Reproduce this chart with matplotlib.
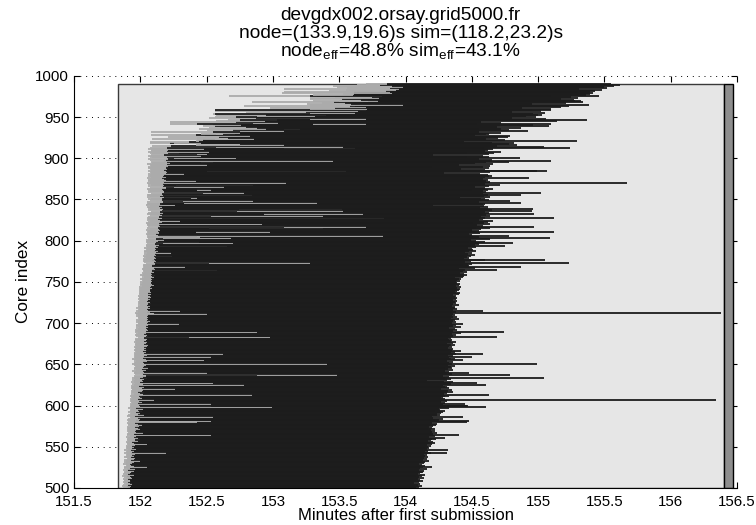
import matplotlib
matplotlib.use("Agg")
import matplotlib.pyplot as plt
import numpy as np
from matplotlib.patches import Rectangle

plt.rcParams.update({
    "font.family": ["Liberation Sans", "DejaVu Sans"],
    "mathtext.fontset": "custom",
    "mathtext.rm": "Liberation Sans",
    "mathtext.it": "Liberation Sans",
})

# one row per core: submission time, start of run, end of run (minutes)
cores = np.arange(500, 991)

submit = [
    151.87, 151.88, 151.86, 151.88, 151.87, 151.89, 151.88, 151.87, 151.89, 151.88,
    151.88, 151.87, 151.89, 151.88, 151.86, 151.88, 151.89, 151.87, 151.88, 151.90,
    151.88, 151.89, 151.87, 151.90, 151.88, 151.89, 151.88, 151.90, 151.89, 151.87,
    151.89, 151.88, 151.90, 151.89, 151.88, 151.90, 151.91, 151.89, 151.88, 151.90,
    151.89, 151.90, 151.88, 151.91, 151.89, 151.90, 151.88, 151.91, 151.90, 151.89,
    151.90, 151.89, 151.91, 151.90, 151.92, 151.90, 151.89, 151.91, 151.90, 151.92,
    151.90, 151.91, 151.89, 151.92, 151.90, 151.91, 151.90, 151.92, 151.91, 151.90,
    151.91, 151.90, 151.92, 151.91, 151.90, 151.92, 151.91, 151.93, 151.91, 151.90,
    151.92, 151.91, 151.90, 151.92, 151.91, 151.93, 151.92, 151.90, 151.91, 151.92,
    151.92, 151.93, 151.91, 151.92, 151.94, 151.92, 151.93, 151.91, 151.92, 151.93,
    151.92, 151.93, 151.92, 151.94, 151.93, 151.92, 151.94, 151.93, 151.92, 151.94,
    151.93, 151.92, 151.94, 151.93, 151.95, 151.93, 151.94, 151.95, 151.93, 151.94,
    151.94, 151.93, 151.95, 151.94, 151.93, 151.95, 151.94, 151.96, 151.93, 151.95,
    151.95, 151.94, 151.96, 151.95, 151.94, 151.96, 151.95, 152.88, 151.96, 151.95,
    151.95, 151.96, 151.94, 151.97, 151.95, 151.96, 151.95, 151.97, 151.96, 151.95,
    151.95, 151.94, 151.96, 151.95, 151.97, 151.95, 151.96, 151.94, 151.96, 151.95,
    151.96, 151.95, 151.97, 151.96, 151.95, 151.97, 151.96, 151.95, 151.96, 151.97,
    151.96, 151.95, 151.97, 151.96, 151.98, 151.96, 151.97, 151.95, 151.97, 151.96,
    151.97, 151.96, 151.98, 152.37, 151.97, 151.98, 151.96, 151.97, 151.98, 151.96,
    151.97, 151.98, 151.96, 151.98, 151.97, 151.99, 151.97, 151.98, 151.97, 151.98,
    151.98, 151.97, 151.99, 151.98, 151.97, 151.99, 151.98, 152.00, 151.98, 151.97,
    151.98, 151.97, 151.96, 151.98, 151.99, 151.97, 151.98, 151.99, 151.97, 151.98,
    151.99, 151.98, 152.00, 151.98, 151.99, 152.00, 151.98, 151.99, 152.00, 151.98,
    151.99, 152.00, 151.99, 151.98, 152.00, 151.99, 152.01, 151.99, 152.00, 151.99,
    152.00, 151.99, 152.01, 152.00, 151.99, 152.01, 152.00, 152.02, 152.00, 152.01,
    152.00, 152.02, 152.01, 152.00, 152.02, 152.01, 152.03, 152.01, 152.02, 152.00,
    152.02, 152.01, 152.03, 152.02, 152.02, 152.03, 152.01, 152.02, 152.03, 152.02,
    152.03, 152.02, 152.04, 152.52, 152.03, 152.02, 152.04, 152.03, 152.02, 152.04,
    152.03, 152.04, 152.02, 152.04, 152.03, 152.05, 152.03, 152.04, 152.03, 152.05,
    152.04, 152.03, 152.05, 152.04, 152.06, 152.04, 152.05, 152.17, 152.04, 152.05,
    152.05, 152.04, 152.06, 152.17, 152.05, 152.06, 152.43, 152.05, 152.04, 152.06,
    152.05, 152.42, 152.06, 152.04, 152.07, 152.52, 152.05, 153.08, 152.06, 152.05,
    152.05, 152.06, 152.04, 152.06, 152.07, 152.05, 152.06, 152.07, 152.05, 152.06,
    152.53, 152.07, 152.05, 152.93, 152.06, 152.08, 152.73, 152.06, 152.74, 152.07,
    152.06, 152.05, 152.07, 152.04, 152.05, 152.06, 152.33, 152.05, 152.32, 152.07,
    152.06, 152.08, 152.38, 152.05, 152.07, 152.06, 152.05, 152.08, 152.47, 152.06,
    152.07, 152.06, 152.43, 152.05, 152.07, 152.25, 152.06, 152.27, 152.08, 152.06,
    152.05, 152.07, 152.06, 152.08, 152.06, 152.07, 152.05, 152.08, 152.07, 152.06,
    152.07, 152.06, 152.08, 152.07, 152.50, 152.06, 152.08, 152.07, 152.06, 152.08,
    152.06, 152.08, 152.07, 152.05, 152.09, 152.46, 152.08, 152.18, 152.07, 152.06,
    152.25, 152.07, 152.09, 152.06, 152.08, 152.43, 152.07, 152.09, 152.06, 152.08,
    152.08, 152.06, 153.08, 152.07, 152.57, 152.09, 152.42, 152.43, 152.07, 152.25,
    152.07, 152.42, 152.43, 152.09, 152.56, 152.43, 152.21, 152.49, 152.08, 152.57,
    152.46, 152.60, 152.08, 152.75, 152.50, 153.08, 152.44, 152.52, 152.60, 152.47,
    152.55, 152.22, 153.30, 152.85, 152.22, 152.57, 152.66, 152.75, 153.28, 152.52,
    152.56, 152.88, 152.57, 152.58, 152.55, 153.28, 152.80, 152.56, 153.30, 152.56,
    153.28, 152.98, 153.28, 153.40, 152.78, 153.28, 153.26, 153.37, 152.84, 153.50,
    153.30, 153.53, 153.28, 153.28, 153.47, 153.33, 152.67, 153.30, 153.53, 153.07,
    153.53, 153.08, 153.42, 153.55, 153.08, 153.56, 153.48, 153.60, 153.45, 153.63, 153.70,
]

start = [
    151.91, 151.92, 151.90, 151.93, 151.91, 151.94, 151.92, 151.91, 151.93, 151.92,
    151.92, 151.91, 151.94, 151.93, 151.90, 151.92, 151.95, 151.91, 151.92, 151.94,
    151.93, 151.95, 151.91, 151.96, 151.92, 151.94, 152.05, 151.95, 151.93, 151.92,
    151.94, 151.93, 151.95, 152.00, 151.93, 151.95, 151.96, 151.94, 151.93, 151.95,
    151.94, 151.96, 151.93, 152.19, 151.94, 151.95, 151.93, 151.97, 151.95, 151.94,
    151.95, 151.94, 151.96, 152.05, 151.97, 151.95, 151.94, 151.98, 151.96, 152.00,
    151.96, 151.98, 151.95, 151.97, 152.53, 151.96, 151.95, 152.02, 151.97, 151.96,
    151.97, 151.96, 152.00, 151.98, 151.96, 151.99, 151.97, 152.01, 151.98, 151.96,
    152.43, 152.53, 151.97, 151.99, 152.00, 151.98, 152.55, 151.96, 151.98, 152.03,
    151.98, 152.00, 151.97, 152.01, 151.99, 151.98, 152.02, 151.97, 152.99, 152.53,
    152.00, 151.99, 152.53, 151.98, 152.01, 152.00, 151.99, 152.10, 151.98, 152.01,
    152.00, 152.01, 151.99, 152.84, 152.02, 152.00, 152.03, 151.98, 152.01, 152.02,
    152.26, 152.01, 152.00, 152.03, 151.99, 152.78, 152.02, 152.55, 152.01, 152.00,
    152.02, 152.01, 152.03, 152.05, 152.00, 152.02, 152.04, 153.48, 152.02, 152.01,
    152.50, 152.03, 152.02, 152.04, 152.01, 152.03, 152.06, 152.02, 152.03, 152.04,
    152.04, 153.41, 152.03, 152.02, 152.05, 152.48, 152.03, 152.04, 152.02, 152.53,
    152.03, 152.05, 152.04, 152.62, 152.03, 152.04, 152.02, 152.05, 152.04, 152.03,
    152.04, 152.03, 152.05, 152.04, 152.06, 152.03, 152.04, 152.05, 152.03, 152.04,
    152.04, 152.05, 152.03, 152.98, 152.06, 152.04, 152.05, 152.03, 152.04, 152.88,
    152.05, 152.04, 152.06, 152.05, 152.04, 152.06, 152.05, 152.04, 152.06, 152.29,
    152.05, 152.06, 152.04, 152.07, 152.05, 152.06, 152.05, 152.07, 152.06, 152.05,
    152.06, 152.50, 152.10, 152.05, 152.07, 152.30, 152.06, 152.05, 152.07, 152.06,
    152.06, 152.07, 152.05, 152.06, 152.08, 152.06, 152.07, 152.05, 152.06, 152.07,
    152.07, 152.06, 152.08, 152.07, 152.06, 152.08, 152.07, 152.06, 152.08, 152.07,
    152.07, 152.08, 152.07, 152.09, 152.07, 152.08, 152.10, 152.07, 152.09, 152.08,
    152.08, 152.09, 152.08, 152.10, 152.09, 152.08, 152.10, 152.09, 152.11, 152.08,
    152.09, 152.08, 152.10, 152.09, 152.58, 152.09, 152.11, 152.10, 152.34, 152.09,
    152.10, 152.09, 152.11, 153.28, 152.10, 152.12, 152.09, 152.11, 152.10, 152.12,
    152.11, 152.24, 152.10, 152.12, 152.11, 152.23, 152.12, 152.10, 152.13, 152.11,
    152.12, 152.11, 152.13, 152.65, 152.12, 152.14, 152.11, 152.70, 152.44, 152.12,
    152.13, 152.18, 152.12, 152.68, 152.14, 152.45, 153.83, 152.13, 152.12, 152.14,
    152.14, 152.98, 152.13, 152.15, 152.14, 153.38, 152.13, 153.70, 152.15, 152.14,
    152.92, 152.15, 152.14, 152.16, 152.30, 152.15, 152.13, 153.84, 152.16, 152.14,
    153.38, 152.16, 152.15, 153.68, 152.17, 152.15, 153.53, 152.16, 153.52, 152.17,
    152.15, 152.16, 152.14, 152.26, 152.16, 152.15, 153.33, 152.17, 152.85, 152.16,
    152.17, 152.16, 152.43, 152.18, 152.15, 152.84, 152.17, 152.16, 152.78, 152.18,
    152.18, 152.17, 152.53, 152.16, 152.19, 152.63, 152.17, 152.85, 152.18, 152.17,
    153.10, 152.18, 152.17, 152.42, 152.19, 152.18, 152.16, 152.19, 152.18, 152.17,
    152.18, 152.33, 152.19, 152.20, 153.55, 152.19, 152.18, 152.20, 152.19, 152.21,
    152.19, 152.21, 152.50, 152.20, 152.22, 152.55, 152.20, 153.45, 152.19, 152.21,
    152.72, 152.43, 152.20, 152.46, 152.18, 152.50, 152.29, 152.21, 152.52, 152.20,
    152.21, 152.48, 153.62, 152.20, 153.53, 152.23, 153.08, 152.75, 152.22, 152.46,
    152.37, 152.44, 152.47, 152.67, 152.86, 152.66, 152.59, 152.83, 152.42, 152.71,
    152.62, 152.75, 152.55, 153.08, 152.70, 153.20, 152.95, 152.88, 152.80, 152.56,
    152.76, 152.43, 153.70, 153.04, 152.72, 152.94, 153.03, 152.75, 153.70, 152.87,
    152.72, 153.32, 153.40, 152.95, 152.56, 153.62, 153.25, 153.64, 153.70, 152.56,
    153.71, 153.47, 153.70, 153.62, 153.58, 153.98, 153.59, 153.54, 153.46, 153.72,
    153.79, 153.66, 153.52, 153.80, 153.75, 153.82, 153.28, 153.60, 153.61, 153.90,
    153.61, 153.88, 153.85, 153.93, 153.95, 153.88, 153.90, 153.98, 153.90, 153.81, 153.86,
]

finish = [
    154.08, 154.10, 154.07, 154.12, 154.09, 154.11, 154.06, 154.10, 154.13, 154.08,
    154.11, 154.09, 154.14, 154.10, 154.08, 154.12, 154.15, 154.09, 154.11, 154.13,
    154.12, 154.14, 154.10, 154.16, 154.11, 154.13, 154.20, 154.15, 154.12, 154.10,
    154.14, 154.12, 154.15, 154.18, 154.13, 154.16, 154.14, 154.17, 154.12, 154.15,
    154.16, 154.14, 154.19, 154.31, 154.15, 154.17, 154.32, 154.16, 154.18, 154.15,
    154.17, 154.19, 154.16, 154.20, 154.22, 154.18, 154.21, 154.17, 154.19, 154.23,
    154.20, 154.30, 154.18, 154.22, 154.40, 154.21, 154.19, 154.24, 154.20, 154.22,
    154.19, 154.17, 154.22, 154.20, 154.18, 154.21, 154.23, 154.19, 154.24, 154.20,
    154.46, 154.48, 154.22, 154.25, 154.28, 154.21, 154.43, 154.20, 154.26, 154.24,
    154.24, 154.27, 154.28, 154.22, 154.30, 154.26, 154.25, 154.33, 154.61, 154.47,
    154.46, 154.28, 154.45, 154.30, 154.27, 154.31, 154.26, 156.34, 154.30, 154.28,
    154.27, 154.30, 154.33, 154.63, 154.29, 154.31, 154.36, 154.28, 154.32, 154.35,
    154.27, 154.33, 154.30, 154.31, 154.28, 154.61, 154.34, 154.54, 154.29, 154.36,
    154.16, 154.31, 154.34, 155.04, 154.30, 154.33, 154.28, 154.79, 154.35, 154.31,
    154.48, 154.33, 154.30, 154.36, 154.32, 154.35, 154.30, 154.34, 154.37, 154.32,
    154.35, 154.99, 154.33, 154.36, 154.31, 154.43, 154.34, 154.37, 154.33, 154.50,
    154.36, 154.32, 154.38, 154.58, 154.34, 154.37, 154.42, 154.35, 154.33, 154.36,
    154.32, 154.35, 154.33, 154.37, 154.34, 154.31, 154.36, 154.38, 154.34, 154.33,
    154.35, 154.32, 154.34, 154.69, 154.36, 154.33, 154.38, 154.35, 154.42, 154.74,
    154.36, 154.34, 154.39, 154.37, 154.33, 154.42, 154.36, 154.35, 154.38, 154.43,
    154.35, 154.38, 154.36, 154.33, 154.37, 154.40, 154.34, 154.36, 154.39, 154.35,
    154.37, 154.36, 156.38, 154.38, 154.35, 154.58, 154.36, 154.39, 154.37, 154.34,
    154.37, 154.35, 154.40, 154.36, 154.38, 154.34, 154.37, 154.39, 154.36, 154.38,
    154.35, 154.39, 154.37, 154.38, 154.36, 154.40, 154.38, 154.41, 154.37, 154.39,
    154.40, 154.38, 154.41, 154.39, 154.42, 154.38, 154.40, 154.37, 154.41, 154.39,
    154.38, 154.41, 154.39, 154.42, 154.40, 154.37, 154.43, 154.44, 154.41, 154.46,
    154.44, 154.41, 154.46, 154.43, 154.69, 154.45, 154.40, 154.52, 154.87, 154.48,
    154.47, 154.43, 154.50, 155.23, 154.45, 154.49, 154.60, 155.05, 154.44, 154.48,
    154.46, 154.44, 154.49, 154.52, 154.47, 154.50, 154.45, 154.53, 154.48, 154.51,
    154.50, 154.47, 154.53, 154.75, 154.49, 154.52, 154.55, 154.81, 154.60, 154.48,
    154.53, 154.49, 154.64, 155.09, 154.51, 154.55, 154.78, 154.50, 154.48, 154.56,
    154.52, 155.12, 154.55, 154.50, 154.57, 154.64, 154.53, 154.97, 154.58, 154.54,
    154.64, 154.59, 154.51, 154.62, 154.66, 154.55, 154.58, 155.12, 154.60, 154.57,
    154.64, 154.61, 154.58, 154.97, 154.63, 154.60, 154.95, 154.65, 154.96, 154.62,
    154.56, 154.62, 154.59, 154.21, 154.60, 154.58, 154.87, 154.55, 154.79, 154.63,
    154.60, 154.57, 154.41, 154.64, 154.59, 154.87, 154.62, 154.58, 155.02, 154.61,
    154.58, 154.62, 154.50, 154.66, 154.60, 154.52, 154.63, 154.71, 154.57, 154.60,
    155.67, 154.64, 154.59, 154.61, 154.62, 154.58, 154.93, 154.60, 154.65, 154.63,
    154.62, 154.56, 154.29, 154.64, 154.99, 155.07, 154.60, 154.42, 154.63, 154.58,
    154.20, 154.64, 154.40, 154.66, 154.52, 154.78, 154.61, 155.10, 154.65, 154.55,
    154.86, 154.46, 154.63, 154.58, 154.21, 154.63, 154.46, 154.67, 154.72, 154.60,
    154.62, 154.66, 155.24, 154.59, 155.04, 154.69, 154.84, 154.78, 154.65, 154.82,
    154.44, 155.29, 154.75, 154.60, 154.61, 154.70, 154.77, 154.79, 154.52, 154.61,
    154.63, 154.72, 154.55, 154.92, 154.78, 154.72, 154.55, 154.87, 154.69, 155.08,
    154.96, 154.54, 155.10, 154.72, 154.57, 155.14, 155.37, 154.87, 155.06, 154.80,
    154.98, 154.91, 155.03, 155.00, 154.96, 155.05, 154.80, 155.02, 155.10, 154.95,
    155.10, 154.88, 155.17, 155.23, 155.14, 155.38, 154.95, 155.21, 155.34, 155.28,
    155.32, 155.27, 155.17, 155.30, 155.25, 155.46, 155.10, 155.36, 155.39, 155.41,
    155.39, 155.30, 155.43, 155.48, 155.31, 155.52, 155.50, 155.42, 155.57, 155.62, 155.55,
]

# node reservation window and the trailing release interval
node_begin, node_end, release_end = 151.83, 156.40, 156.47
node_top = 990

xticks = [151.5, 152, 152.5, 153, 153.5, 154, 154.5, 155, 155.5, 156, 156.5]
xticklabels = ["151.5", "152", "152.5", "153", "153.5", "154", "154.5", "155", "155.5", "156", "156.5"]
yticks = [500, 550, 600, 650, 700, 750, 800, 850, 900, 950, 1000]

title_lines = [
    "devgdx002.orsay.grid5000.fr",
    "node=(133.9,19.6)s sim=(118.2,23.2)s",
    r"node$_{\mathrm{eff}}$=48.8% sim$_{\mathrm{eff}}$=43.1%",
]

fig = plt.figure(figsize=(7.56, 5.25), dpi=100)
ax = fig.add_axes([0.098, 0.0705, 0.877, 0.785])

ax.add_patch(Rectangle((node_begin, 500), node_end - node_begin, node_top - 500,
                       facecolor="#e6e6e6", edgecolor="#3a3a3a", lw=1.0, zorder=1))
ax.add_patch(Rectangle((node_end, 500), release_end - node_end, node_top - 500,
                       facecolor="#8e8e8e", edgecolor="black", lw=1.0, zorder=1))

# waiting part in grey, run part in black, interleaved so each core is drawn in order
s = np.array(submit)
b = np.array(start)
e = np.array(finish)
ys = np.repeat(cores, 2)
x0 = np.column_stack([s, b]).ravel()
x1 = np.column_stack([b, e]).ravel()
cols = ["#ababab", "#1c1c1c"] * len(cores)
ax.hlines(ys, x0, x1, colors=cols, linewidth=1.3, zorder=2)

ax.set_xlim(151.5, 156.5)
ax.set_ylim(500, 1000)
ax.set_xticks(xticks)
ax.set_xticklabels(xticklabels)
ax.set_yticks(yticks)
ax.tick_params(direction="in", length=4, labelsize=10.8, top=True, right=True)
ax.tick_params(axis="x", pad=5)
ax.grid(True, linestyle=(0, (1, 5)), color="black", linewidth=0.7)
ax.set_axisbelow(True)
for side in ["top", "right"]:
    ax.spines[side].set_visible(False)

ax.set_xlabel("Minutes after first submission", fontsize=12, labelpad=-1)
ax.set_ylabel("Core index", fontsize=12.3, labelpad=3)

fig.text(0.530, 0.962, title_lines[0], ha="center", va="baseline", fontsize=13.8)
fig.text(0.530, 0.927, title_lines[1], ha="center", va="baseline", fontsize=13.8)
fig.text(0.530, 0.893, title_lines[2], ha="center", va="baseline", fontsize=13.8)

fig.savefig("out.png", dpi=100)
